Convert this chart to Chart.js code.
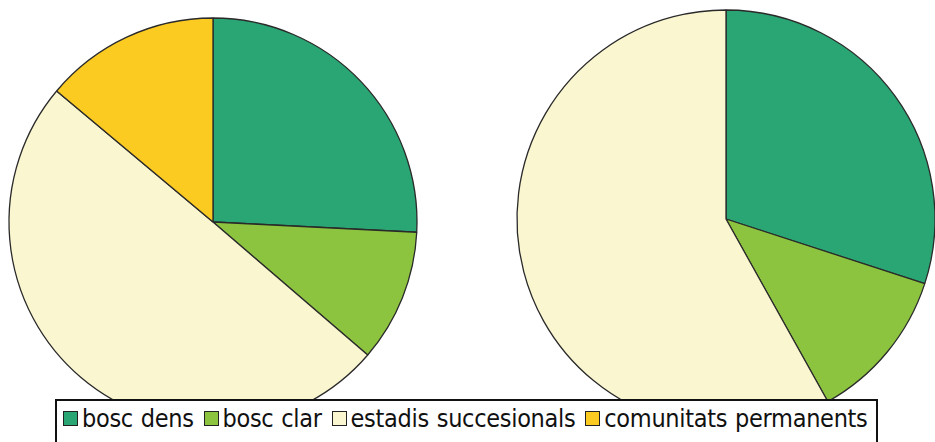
<!DOCTYPE html>
<html>
<head>
<meta charset="utf-8">
<script src="https://cdn.jsdelivr.net/npm/chart.js@4.4.1/dist/chart.umd.min.js"></script>
<style>
  html, body { margin: 0; padding: 0; background: #fff; }
  body { width: 935px; height: 442px; position: relative; overflow: hidden; }
  .pie { position: absolute; width: 440px; height: 440px; }
  #pieA { left: -7px; top: 2px; }
  #pieB { left: 506px; top: -1px; }
  #legend {
    position: absolute; left: 55px; top: 399px; width: 823px; height: 60px;
    border: 2px solid #111; background: #fff; box-sizing: border-box;
    font-family: "DejaVu Sans Condensed", "DejaVu Sans", sans-serif; font-size: 25px; color: #111;
    padding: 3px 0 0 4px; white-space: nowrap; letter-spacing: -0.3px; word-spacing: 1px;
  }
  #legend span.sw {
    display: inline-block; width: 13px; height: 13px; border: 1.5px solid #222;
    margin: 0 4px 0 2px; vertical-align: 1px;
  }
</style>
</head>
<body>
<div class="pie" id="pieA"><canvas id="chartA"></canvas></div>
<div class="pie" id="pieB"><canvas id="chartB"></canvas></div>
<div id="legend"></div>

<script>
// categories and shares (%) for the two pies
const categories = ['bosc dens', 'bosc clar', 'estadis succesionals', 'comunitats permanents'];
const sharesA = [25.8, 10.5, 49.8, 13.9];
const sharesB = [30.0, 11.9, 58.1, 0];
const colors = ['#2aa574', '#8cc43f', '#faf6d0', '#fccb22'];

function makePie(id, values, radius) {
  return new Chart(document.getElementById(id).getContext('2d'), {
    type: 'pie',
    data: {
      labels: categories,
      datasets: [{
        data: values,
        backgroundColor: colors,
        borderColor: '#2a2a2a',
        borderWidth: 1.3
      }]
    },
    options: {
      responsive: false,
      animation: false,
      radius: radius,
      plugins: {
        legend: { display: false },
        tooltip: { enabled: false }
      }
    }
  });
}

function sizeCanvas(id) {
  const c = document.getElementById(id);
  c.width = 440; c.height = 440;
}
sizeCanvas('chartA');
sizeCanvas('chartB');
makePie('chartA', sharesA, 204);
makePie('chartB', sharesB, 209);

// shared legend strip along the bottom
const legend = document.getElementById('legend');
categories.forEach((name, i) => {
  const sw = document.createElement('span');
  sw.className = 'sw';
  sw.style.background = colors[i];
  legend.appendChild(sw);
  legend.appendChild(document.createTextNode(name + ' '));
});
</script>
</body>
</html>
